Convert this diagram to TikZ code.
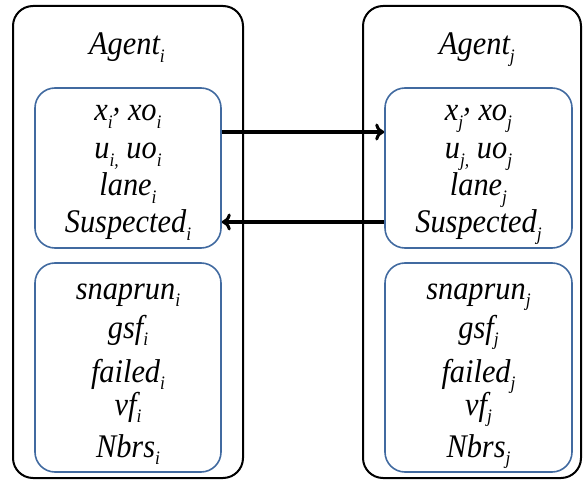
\documentclass[tikz,border=0pt]{standalone}
\usepackage{fontspec}
\setmainfont{Liberation Serif}[FakeStretch=0.92]
\usetikzlibrary{arrows.meta}
\definecolor{boxblue}{RGB}{65,106,160}
\newcommand{\ix}[1]{\raisebox{-0.24em}{\fontsize{19}{19}\selectfont\itshape #1}}
\begin{document}
\begin{tikzpicture}[x=1pt,y=-1pt,
  agentbox/.style={draw=black,line width=2pt,rounded corners=20pt},
  varbox/.style={draw=boxblue,line width=1.6pt,rounded corners=20pt},
  vtext/.style={anchor=base,inner sep=0pt,font=\fontsize{33}{38}\selectfont\itshape},
  link/.style={line width=3.4pt,-{To[length=9pt,width=17pt,line width=3pt]}}]
\useasboundingbox (0,0) rectangle (584,481);
% agent frames
\draw[agentbox] (13,6) rectangle (243,478);
\draw[agentbox] (363,6) rectangle (581,478);
% state boxes
\node[varbox,minimum width=186pt,minimum height=160pt] (si) at (128,168) {};
\node[varbox,minimum width=187pt,minimum height=160pt] (sj) at (478.5,168) {};
\node[varbox,minimum width=186pt,minimum height=209pt] (li) at (128,367.5) {};
\node[varbox,minimum width=187pt,minimum height=209pt] (lj) at (478.5,367.5) {};
% agent i
\node[vtext] (ai) at (127,55) {Agent\ix{i}};
\node[vtext] (i1) at (128,121) {x\ix{i}\raisebox{0.3em}{,} xo\ix{i}};
\node[vtext] (i2) at (128,159) {u\ix{i,} uo\ix{i}};
\node[vtext] (i3) at (128,196) {lane\ix{i}};
\node[vtext] (i4) at (128,233) {Suspected\ix{i}};
\node[vtext] (i5) at (128,299) {snaprun\ix{i}};
\node[vtext] (i6) at (128,338) {gsf\ix{i}};
\node[vtext] (i7) at (128,382) {failed\ix{i}};
\node[vtext] (i8) at (128,415) {vf\ix{i}};
\node[vtext] (i9) at (128,457) {Nbrs\ix{i}};
% agent j
\node[vtext] (aj) at (477,55) {Agent\ix{j}};
\node[vtext] (j1) at (478.5,121) {x\ix{j}\raisebox{0.3em}{,} xo\ix{j}};
\node[vtext] (j2) at (478.5,159) {u\ix{j,} uo\ix{j}};
\node[vtext] (j3) at (478.5,196) {lane\ix{j}};
\node[vtext] (j4) at (478.5,233) {Suspected\ix{j}};
\node[vtext] (j5) at (478.5,299) {snaprun\ix{j}};
\node[vtext] (j6) at (478.5,338) {gsf\ix{j}};
\node[vtext] (j7) at (478.5,382) {failed\ix{j}};
\node[vtext] (j8) at (478.5,415) {vf\ix{j}};
\node[vtext] (j9) at (478.5,457) {Nbrs\ix{j}};
% messages between the agents
\draw[link] (si.east |- 0,132) -- (sj.west |- 0,132);
\draw[link] (sj.west |- 0,222) -- (si.east |- 0,222);
\end{tikzpicture}
\end{document}
